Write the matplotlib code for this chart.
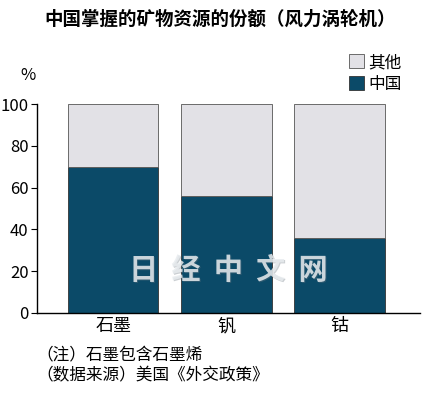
import numpy as np
import matplotlib.pyplot as plt

plt.rcParams['font.family'] = ['Noto Sans CJK SC', 'DejaVu Sans']

# data (%)
minerals = ['石墨', '钒', '钴']
china = [70, 56, 36]
others = [100 - v for v in china]
yticks = [0, 20, 40, 60, 80, 100]

c_china = '#0b4a68'
c_other = '#e2e1e6'

fig = plt.figure(figsize=(4.3, 3.95), dpi=100)
ax = fig.add_axes([0.086, 0.2076, 0.891, 0.5291])

x = np.arange(len(minerals))
ax.bar(x, china, width=0.8, color=c_china, edgecolor='#333333', linewidth=0.6, label='中国')
ax.bar(x, others, width=0.8, bottom=china, color=c_other, edgecolor='#555555', linewidth=0.6, label='其他')

ax.set_xlim(-0.673, 2.71)
ax.set_ylim(0, 100)
ax.set_yticks(yticks)
ax.set_xticks(x)
ax.set_xticklabels(minerals, fontsize=13)
ax.tick_params(axis='y', labelsize=12, length=4, direction='out', pad=2)
ax.tick_params(axis='x', length=0, pad=3)
for s in ['top', 'right']:
    ax.spines[s].set_visible(False)
ax.spines['left'].set_linewidth(1.0)
ax.spines['bottom'].set_linewidth(1.0)

# watermark
ax.text(0.503, 0.2, '日  经  中  文  网', transform=ax.transAxes, ha='center', va='center',
        fontsize=21, fontweight='bold', color='#6b7780', alpha=0.35)
ax.text(0.5, 0.205, '日  经  中  文  网', transform=ax.transAxes, ha='center', va='center',
        fontsize=21, fontweight='bold', color='#e8ecef', alpha=0.85)

fig.text(0.512, 0.952, '中国掌握的矿物资源的份额（风力涡轮机）', ha='center', va='center',
         fontsize=13.3, fontweight='bold')
fig.text(0.065, 0.81, '%', ha='center', va='center', fontsize=12)

# legend
handles, labels = ax.get_legend_handles_labels()
fig.legend(handles[::-1], labels[::-1], loc='upper left', bbox_to_anchor=(0.795, 0.88),
           frameon=False, fontsize=12, handlelength=0.9, handleheight=0.9,
           handletextpad=0.3, labelspacing=0.3, borderaxespad=0)

fig.text(0.085, 0.1, '（注）石墨包含石墨烯', ha='left', va='center', fontsize=12)
fig.text(0.085, 0.048, '（数据来源）美国《外交政策》', ha='left', va='center', fontsize=12)

fig.savefig('out.png', dpi=100)
